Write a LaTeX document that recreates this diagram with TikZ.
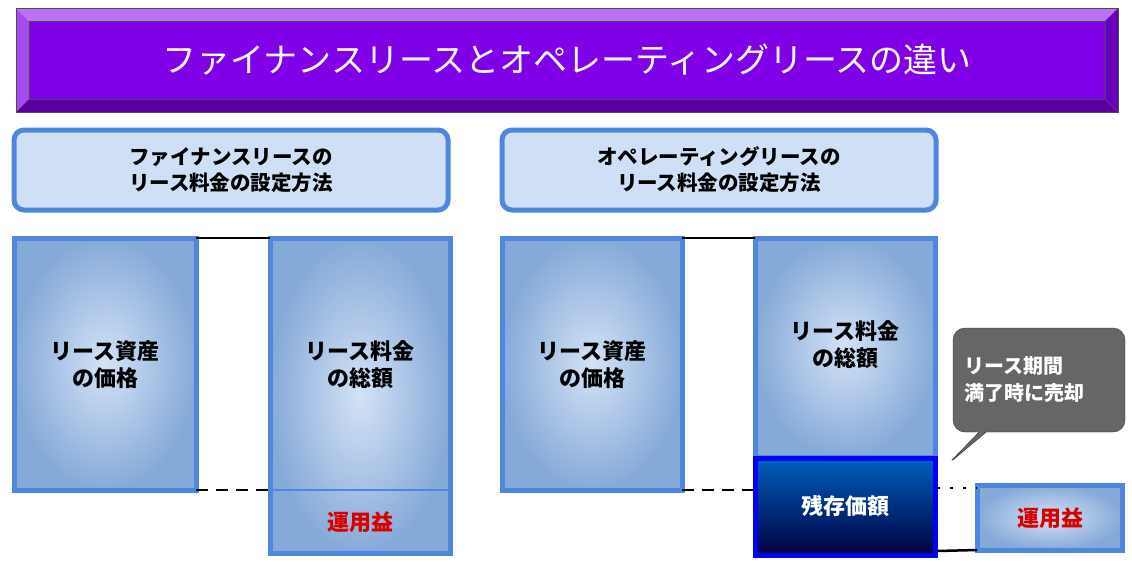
\documentclass[tikz,border=0pt]{standalone}
\usepackage{fontspec}
\setmainfont{Noto Sans CJK JP}
\usetikzlibrary{shapes.callouts}
\definecolor{frameblue}{HTML}{4F86E0}
\definecolor{paleblue}{HTML}{CFDFF5}
\definecolor{midblue}{HTML}{86AAD8}
\definecolor{titlepurple}{HTML}{8000E8}
\tikzset{
  headbox/.style={draw=frameblue, line width=5pt, fill=paleblue, rounded corners=10pt},
  valbox/.style={draw=frameblue, line width=5pt, inner color=paleblue!90!white, outer color=midblue},
  resbox/.style={draw=blue, line width=5pt, top color=blue!50!cyan!75!black, bottom color=blue!25!black},
  boxlbl/.style={font=\bfseries\fontsize{22}{27}\selectfont, align=center},
  headlbl/.style={font=\bfseries\fontsize{20.5}{26}\selectfont, align=center},
  gainlbl/.style={text=red!85!black, font=\bfseries\fontsize{22}{27}\selectfont},
  link/.style={line width=2.5pt}
}
\begin{document}
\begin{tikzpicture}[x=1pt,y=-1pt]
\useasboundingbox (0,0) rectangle (1132,566);
% title banner
\fill[titlepurple!55!white] (16,8) -- (1118,8) -- (1105,21) -- (29,21) -- cycle;
\fill[titlepurple!70!white] (16,8) -- (29,21) -- (29,99) -- (16,112) -- cycle;
\fill[titlepurple!70!black] (16,112) -- (29,99) -- (1105,99) -- (1118,112) -- cycle;
\fill[titlepurple!80!black] (1118,8) -- (1105,21) -- (1105,99) -- (1118,112) -- cycle;
\fill[titlepurple] (29,21) rectangle (1105,99);
\draw[black!70] (16,8) rectangle (1118,112) (29,21) rectangle (1105,99);
\node[text=white, font=\fontsize{34}{40}\selectfont] (title) at (567,60)
  {ファイナンスリースとオペレーティングリースの違い};
% headers
\draw[headbox] (14,130) rectangle (448,210);
\node[headlbl] (hfin) at (231,170) {ファイナンスリースの\\リース料金の設定方法};
\draw[headbox] (502,130) rectangle (936,210);
\node[headlbl] (hope) at (719,170) {オペレーティングリースの\\リース料金の設定方法};
% finance lease
\draw[valbox] (14,238) rectangle (196,490);
\node[boxlbl] (asset1) at (105,365) {リース資産\\の価格};
\draw[valbox] (270,238) rectangle (450,553);
\draw[frameblue, line width=2pt] (270,490) -- (450,490);
\node[boxlbl] (total1) at (360,365) {リース料金\\の総額};
\node[gainlbl] (gain1) at (360,522) {運用益};
\draw[link] (196,238) -- (270,238);
\draw[link, dash pattern=on 12pt off 8pt] (196,490) -- (270,490);
% operating lease
\draw[valbox] (502,238) rectangle (682,490);
\node[boxlbl] (asset2) at (592,365) {リース資産\\の価格};
\draw[valbox] (755,238) rectangle (935,457);
\node[boxlbl] (total2) at (845,345) {リース料金\\の総額};
\draw[resbox] (755,458) rectangle (935,555);
\node[boxlbl, text=white] (resid) at (845,506) {残存価額};
\draw[valbox] (977,485) rectangle (1122,550);
\node[gainlbl] (gain2) at (1050,518) {運用益};
\draw[link] (682,238) -- (755,238);
\draw[link, dash pattern=on 12pt off 8pt] (682,490) -- (755,490);
\draw[link, dash pattern=on 3pt off 10pt] (937,488) -- (977,488);
\draw[link] (937,551) -- (977,550);
% callout
\node[rectangle callout, rounded corners=12pt, fill=black!60, draw=black!80, text=white,
  minimum width=172pt, minimum height=104pt, text width=150pt, align=left,
  callout absolute pointer={(947,465)}, font=\bfseries\fontsize{20}{27}\selectfont]
  (sale) at (1039,380) {リース期間\\満了時に売却};
\end{tikzpicture}
\end{document}
